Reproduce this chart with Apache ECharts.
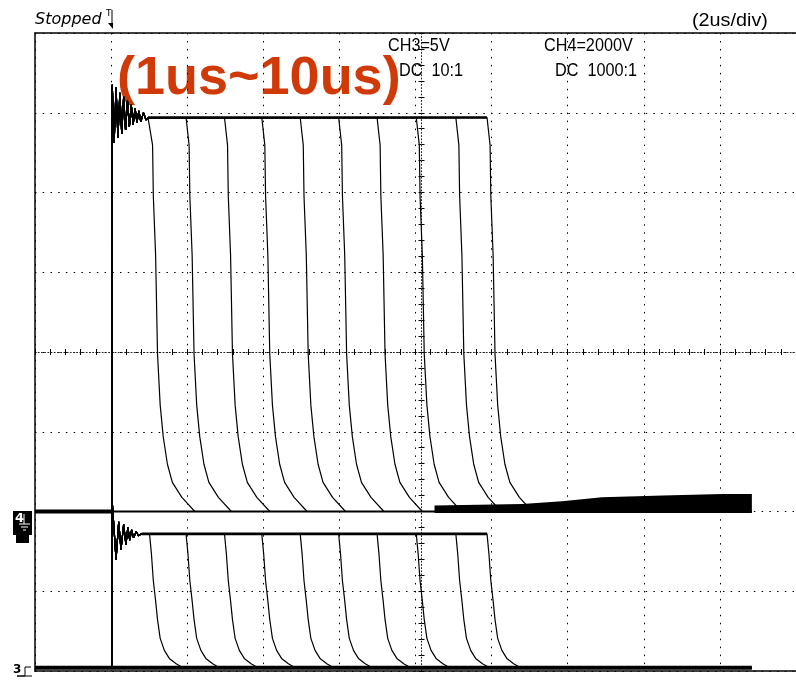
<!DOCTYPE html>
<html>
<head>
<meta charset="utf-8">
<script src="https://cdn.jsdelivr.net/npm/echarts@6/dist/echarts.min.js"></script>
<style>
  html, body { margin: 0; padding: 0; background: #fff; }
  #chart { width: 796px; height: 681px; }
</style>
</head>
<body>
<div id="chart"></div>
<script>
// horizontal: time in us (2us/div), vertical: screen divisions (-4..4)
const timeMin = -2, timeMax = 18, traceEnd = 16.84;
const pulseWidths = [1.01, 1.97, 2.98, 3.96, 4.97, 5.98, 6.99, 8.02, 9.06, 9.88];

// CH4 : 2000 V/div, ground marker at -2 div
const ch4Scale = 2000, ch4Ground = -2, ch4High = 9880, ch4SettleT = 0.97;
const ch4RingT = [0.03, 0.08, 0.13, 0.18, 0.23, 0.28, 0.33, 0.38, 0.43, 0.48, 0.53, 0.58, 0.63, 0.68, 0.73, 0.78, 0.85, 0.92];
const ch4RingV = [10700, 9250, 10630, 9370, 10500, 9470, 10400, 9570, 10300, 9650, 10200, 9700, 10120, 9750, 10050, 9770, 10000, 9820];
const ch4FallT = [0, 0.08, 0.10, 0.16, 0.21, 0.28, 0.36, 0.47, 0.60, 0.85, 1.19];
const ch4FallFrac = [1, 0.93, 0.80, 0.65, 0.40, 0.27, 0.19, 0.12, 0.074, 0.036, 0];
// noisy band on CH4 after the pulses
const ch4NoiseT = [8.5, 10.8, 11.85, 12.9, 14.5, 16.07, 16.84];
const ch4NoiseTop = [150, 190, 260, 360, 400, 440, 440];
const ch4NoiseBottom = -40;

// CH3 : 5 V/div, ground marker at -3.96 div
const ch3Scale = 5, ch3Ground = -3.96, ch3High = 8.4, ch3SettleT = 0.8;
const ch3RingT = [0.03, 0.13, 0.20, 0.26, 0.33, 0.39, 0.44, 0.49, 0.54, 0.59, 0.66, 0.72];
const ch3RingV = [10.4, 6.8, 9.15, 7.4, 9.0, 7.7, 8.8, 8.0, 8.65, 8.15, 8.55, 8.28];
const ch3FallT = [0, 0.05, 0.10, 0.16, 0.21, 0.28, 0.39, 0.52, 0.70, 0.88];
const ch3FallFrac = [1, 0.85, 0.65, 0.50, 0.36, 0.22, 0.13, 0.07, 0.03, 0];

function buildTrace(width, high, settle, ringT, ringV, fallT, fallFrac, scale, ground) {
  const pts = [[timeMin, 0], [0.02, 0]];
  ringT.forEach((t, i) => { if (t < width) pts.push([t, ringV[i]]); });
  if (settle < width) pts.push([settle, high]);
  pts.push([width, high]);
  fallT.forEach((dt, i) => { if (i > 0) pts.push([width + dt, high * fallFrac[i]]); });
  pts.push([traceEnd, 0]);
  return pts.map(p => [p[0], p[1] / scale + ground]);
}

const series = [];
const traceStyle = { color: '#000', width: 1.2 };
pulseWidths.forEach(w => {
  series.push({ type: 'line', showSymbol: false, silent: true, lineStyle: traceStyle,
    data: buildTrace(w, ch4High, ch4SettleT, ch4RingT, ch4RingV, ch4FallT, ch4FallFrac, ch4Scale, ch4Ground) });
  series.push({ type: 'line', showSymbol: false, silent: true, lineStyle: traceStyle,
    data: buildTrace(w, ch3High, ch3SettleT, ch3RingT, ch3RingV, ch3FallT, ch3FallFrac, ch3Scale, ch3Ground) });
});

// thicker overlapping parts (plateaus and baselines)
const thick = (data, width) => ({ type: 'line', showSymbol: false, silent: true,
  lineStyle: { color: '#000', width: width }, data: data });
series.push(thick([[ch4SettleT, ch4High / ch4Scale + ch4Ground], [pulseWidths[9], ch4High / ch4Scale + ch4Ground]], 2.6));
series.push(thick([[ch3SettleT, ch3High / ch3Scale + ch3Ground], [pulseWidths[9], ch3High / ch3Scale + ch3Ground]], 2.6));
series.push(thick([[timeMin, ch4Ground], [0.02, ch4Ground]], 4));
series.push(thick([[0.02, ch4Ground], [traceEnd, ch4Ground]], 2));
series.push(thick([[timeMin, ch3Ground], [traceEnd, ch3Ground]], 4));

// noise band as polygon through the axis scales
series.push({
  type: 'custom', silent: true,
  data: [0],
  renderItem: function (params, api) {
    const pts = [];
    ch4NoiseT.forEach((t, i) => pts.push(api.coord([t, ch4NoiseTop[i] / ch4Scale + ch4Ground])));
    for (let i = ch4NoiseT.length - 1; i >= 0; i--) {
      pts.push(api.coord([ch4NoiseT[i], ch4NoiseBottom / ch4Scale + ch4Ground]));
    }
    return { type: 'polygon', shape: { points: pts }, style: { fill: '#000' } };
  }
});

const hidden = { axisTick: { show: false }, axisLabel: { show: false }, splitLine: { show: false } };
const border = { onZero: false, lineStyle: { color: '#000', width: 1.5 } };
const centerLine = { color: '#222', width: 1, type: [1, 2.2] };
const scopeFont = '18px "Liberation Sans", Arial, sans-serif';

const option = {
  animation: false,
  grid: { left: 35, right: -12, top: 33, bottom: 10 },
  xAxis: [
    { type: 'value', min: timeMin, max: timeMax, interval: 2, position: 'bottom',
      axisLine: border, axisTick: { show: false }, axisLabel: { show: false },
      splitLine: { show: true, lineStyle: { color: '#000', width: 1, type: [1.5, 6.47] } } },
    Object.assign({ type: 'value', min: timeMin, max: timeMax, position: 'top', axisLine: border }, hidden),
    { type: 'value', min: timeMin, max: timeMax, interval: 0.4, position: 'bottom',
      axisLine: { onZero: true, lineStyle: centerLine },
      axisTick: { show: true, length: 3, lineStyle: { color: '#000' } },
      axisLabel: { show: false }, splitLine: { show: false } },
    { type: 'value', min: timeMin, max: timeMax, interval: 0.4, position: 'bottom',
      axisLine: { show: false, onZero: true },
      axisTick: { show: true, inside: true, length: 3, lineStyle: { color: '#000' } },
      axisLabel: { show: false }, splitLine: { show: false } }
  ],
  yAxis: [
    { type: 'value', min: -4, max: 4, interval: 1, position: 'left',
      axisLine: border, axisTick: { show: false }, axisLabel: { show: false },
      splitLine: { show: true, lineStyle: { color: '#000', width: 1, type: [1.5, 6.23] } } },
    { type: 'value', min: -4, max: 4, interval: 0.2, position: 'left', offset: -386.5,
      axisLine: { onZero: false, lineStyle: centerLine },
      axisTick: { show: true, length: 3, lineStyle: { color: '#000' } },
      axisLabel: { show: false }, splitLine: { show: false } },
    { type: 'value', min: -4, max: 4, interval: 0.2, position: 'left', offset: -386.5,
      axisLine: { show: false, onZero: false },
      axisTick: { show: true, inside: true, length: 3, lineStyle: { color: '#000' } },
      axisLabel: { show: false }, splitLine: { show: false } }
  ],
  series: series,
  graphic: [
    { type: 'text', x: 35, y: 20, style: { text: 'Stopped', font: 'italic 16px "DejaVu Sans"', fill: '#000', verticalAlign: 'middle' } },
    { type: 'text', x: 106, y: 14, style: { text: 'T', font: '9px "DejaVu Sans"', fill: '#000', verticalAlign: 'middle' } },
    { type: 'polyline', shape: { points: [[112, 10], [112, 27]] }, style: { stroke: '#000', lineWidth: 1 } },
    { type: 'polygon', shape: { points: [[108, 23], [113, 23], [113, 29]] }, style: { fill: '#000' } },
    { type: 'text', x: 692, y: 21, scaleX: 1.1, style: { text: '(2us/div)', font: scopeFont, fill: '#000', verticalAlign: 'middle' } },
    { type: 'text', x: 388, y: 46, scaleX: 0.9, style: { text: 'CH3=5V', font: scopeFont, fill: '#000', verticalAlign: 'middle' } },
    { type: 'text', x: 399, y: 71, scaleX: 0.9, style: { text: 'DC  10:1', font: scopeFont, fill: '#000', verticalAlign: 'middle' } },
    { type: 'text', x: 544, y: 46, scaleX: 0.9, style: { text: 'CH4=2000V', font: scopeFont, fill: '#000', verticalAlign: 'middle' } },
    { type: 'text', x: 555, y: 71, scaleX: 0.9, style: { text: 'DC  1000:1', font: scopeFont, fill: '#000', verticalAlign: 'middle' } },
    { type: 'text', x: 117, y: 79, style: { text: '(1us~10us)', font: 'bold 54px "Liberation Sans", Arial, sans-serif', fill: '#d03a08', verticalAlign: 'middle' } },
    // CH4 ground marker
    { type: 'rect', shape: { x: 13, y: 511, width: 19, height: 24 }, style: { fill: '#000' } },
    { type: 'rect', shape: { x: 16, y: 535, width: 13, height: 8 }, style: { fill: '#000' } },
    { type: 'text', x: 15, y: 519, style: { text: '4', font: 'bold 13px "DejaVu Sans"', fill: '#fff', verticalAlign: 'middle' } },
    { type: 'polyline', shape: { points: [[24, 514], [24, 524]] }, style: { stroke: '#fff', lineWidth: 1 } },
    { type: 'polyline', shape: { points: [[19, 524], [30, 524]] }, style: { stroke: '#fff', lineWidth: 1 } },
    { type: 'polyline', shape: { points: [[21, 527], [28, 527]] }, style: { stroke: '#fff', lineWidth: 1 } },
    { type: 'polyline', shape: { points: [[23, 530], [26, 530]] }, style: { stroke: '#fff', lineWidth: 1 } },
    // CH3 ground marker
    { type: 'text', x: 13, y: 670, style: { text: '3', font: 'bold 12px "DejaVu Sans"', fill: '#000', verticalAlign: 'middle' } },
    { type: 'polyline', shape: { points: [[31, 667], [25, 667], [25, 676], [17, 676], [32, 676]] }, style: { stroke: '#000', lineWidth: 1, fill: null } }
  ]
};

const chart = echarts.init(document.getElementById('chart'));
chart.setOption(option);
</script>
</body>
</html>
